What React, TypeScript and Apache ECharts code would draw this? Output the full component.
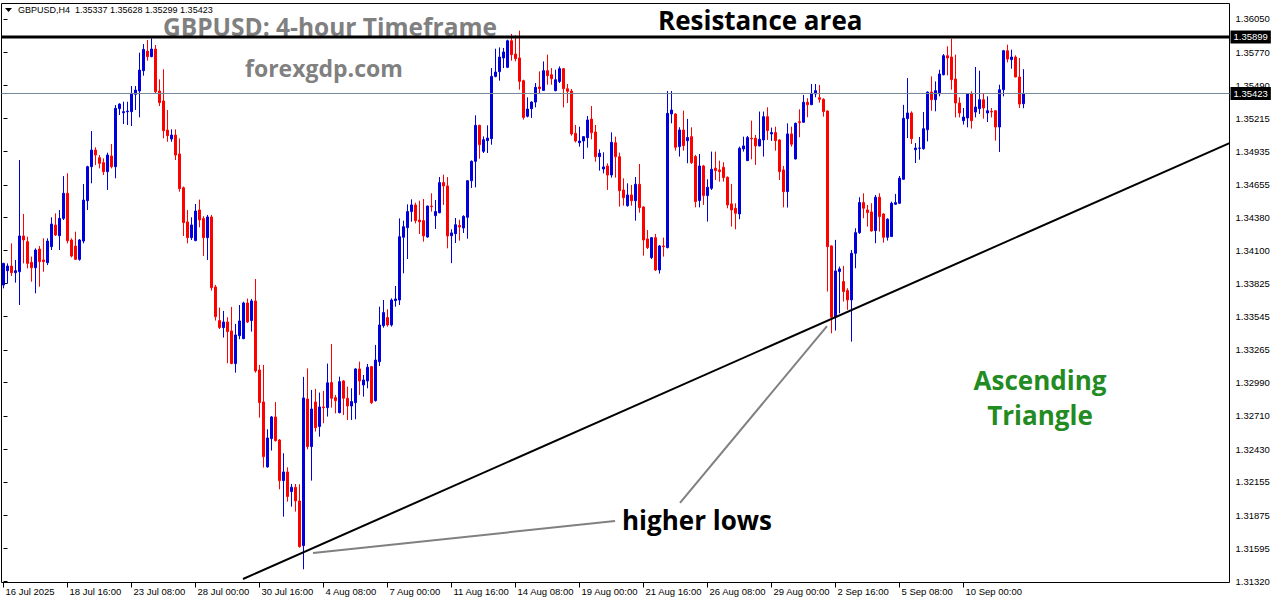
import React, { useEffect, useRef } from "react";
import * as echarts from "echarts";

// ---- data (GBPUSD H4, 16 Jul – 12 Sep 2025) ----
const opens = [
  1.33811,1.33932,1.33971,1.33915,1.33923,1.34224,1.34176,1.34002,1.33957,1.34114,
  1.34022,1.33999,1.34134,1.34316,1.34226,1.34372,1.34583,1.34190,1.34139,1.34027,
  1.34181,1.34521,1.34807,1.34947,1.34883,1.34841,1.34765,1.34897,1.34807,1.35295,
  1.35261,1.35270,1.35270,1.35416,1.35444,1.35615,1.35780,1.35733,1.35797,1.35444,
  1.35360,1.35115,1.35040,1.35073,1.34914,1.34630,1.34342,1.34210,1.34185,1.34443,
  1.34370,1.34210,1.34384,1.33795,1.33512,1.33453,1.33500,1.33425,1.33150,1.33385,
  1.33360,1.33660,1.33512,1.33677,1.33096,1.32827,1.32280,1.32519,1.32701,1.32507,
  1.32165,1.32238,1.32073,1.32109,1.31994,1.31618,1.32852,1.32451,1.32827,1.32620,
  1.32785,1.32779,1.32990,1.32863,1.32737,1.33004,1.32858,1.32793,1.32821,1.33105,
  1.32970,1.33004,1.33124,1.32838,1.33166,1.33469,1.33537,1.33475,1.33680,1.33685,
  1.34213,1.34294,1.34429,1.34485,1.34358,1.34353,1.34215,1.34476,1.34395,1.34420,
  1.34673,1.34645,1.34226,1.34243,1.34313,1.34291,1.34381,1.34689,1.34852,1.35155,
  1.34936,1.35026,1.35043,1.35567,1.35607,1.35722,1.35643,1.35867,1.35755,1.35722,
  1.35531,1.35231,1.35295,1.35351,1.35478,1.35449,1.35615,1.35581,1.35447,1.35525,
  1.35632,1.35463,1.35444,1.35088,1.35009,1.35023,1.35051,1.35208,1.35099,1.34891,
  1.34788,1.34813,1.34737,1.35009,1.34891,1.34611,1.34479,1.34569,1.34521,1.34659,
  1.34468,1.34199,1.34042,1.34210,1.33938,1.34140,1.34126,1.35251,1.35251,1.34976,
  1.35116,1.35026,1.35060,1.34892,1.34522,1.34813,1.34564,1.34625,1.34794,1.34780,
  1.34802,1.34718,1.34494,1.34457,1.34409,1.34956,1.34858,1.35046,1.35046,1.34982,
  1.35032,1.35228,1.35083,1.35094,1.35032,1.34780,1.34597,1.35083,1.34872,1.35186,
  1.35181,1.35349,1.35329,1.35419,1.35388,1.35374,1.35276,1.34140,1.33540,1.33924,
  1.33840,1.33764,1.33686,1.34078,1.34252,1.34505,1.34443,1.34426,1.34269,1.34550,
  1.34409,1.34213,1.34219,1.34491,1.34499,1.34701,1.35211,1.35259,1.34950,1.34962,
  1.34959,1.35118,1.35435,1.35371,1.35421,1.35581,1.35741,1.35730,1.35545,1.35343,
  1.35194,1.35217,1.35421,1.35267,1.35295,1.35371,1.35259,1.35273,1.35278,1.35141,
  1.35455,1.35783,1.35708,1.35730,1.35562,1.35337
];
const highs = [
  1.33999,1.33993,1.34162,1.34022,1.34863,1.34409,1.34218,1.34050,1.34120,1.34139,
  1.34204,1.34204,1.34381,1.34414,1.34442,1.34728,1.34751,1.34204,1.34260,1.34198,
  1.34661,1.34815,1.35107,1.34970,1.34905,1.34877,1.34925,1.34998,1.35326,1.35340,
  1.35354,1.35354,1.35486,1.35486,1.35766,1.35839,1.35873,1.35887,1.35831,1.35542,
  1.35626,1.35284,1.35121,1.35121,1.35045,1.34640,1.34443,1.34381,1.34493,1.34530,
  1.34390,1.34401,1.34401,1.33812,1.33621,1.33593,1.33540,1.33627,1.33484,1.33643,
  1.33671,1.33697,1.33694,1.33862,1.33139,1.33139,1.32597,1.32709,1.32827,1.32515,
  1.32395,1.32277,1.32137,1.32137,1.32134,1.33038,1.33110,1.32928,1.32937,1.32906,
  1.32920,1.33150,1.33315,1.32886,1.33040,1.33010,1.32956,1.32942,1.33110,1.33166,
  1.33054,1.33147,1.33130,1.33307,1.33629,1.33685,1.33607,1.33699,1.33803,1.34372,
  1.34353,1.34490,1.34532,1.34504,1.34521,1.34535,1.34479,1.34583,1.34527,1.34720,
  1.34740,1.34720,1.34280,1.34375,1.34361,1.34398,1.34695,1.34860,1.35239,1.35160,
  1.35062,1.35155,1.35637,1.35800,1.35811,1.35806,1.35876,1.35924,1.35912,1.35952,
  1.35539,1.35391,1.35357,1.35511,1.35609,1.35693,1.35750,1.35637,1.35623,1.35651,
  1.35637,1.35503,1.35461,1.35158,1.35144,1.35065,1.35234,1.35318,1.35158,1.34953,
  1.34928,1.34835,1.35096,1.35060,1.34925,1.34709,1.34667,1.34653,1.34720,1.34830,
  1.34475,1.34274,1.34215,1.34241,1.34148,1.34210,1.35444,1.35444,1.35255,1.35139,
  1.35279,1.35209,1.35139,1.34906,1.34914,1.34822,1.34701,1.34934,1.34934,1.34858,
  1.34844,1.34725,1.34662,1.34499,1.34976,1.35060,1.35066,1.35195,1.35074,1.35271,
  1.35271,1.35307,1.35136,1.35144,1.35038,1.34813,1.35172,1.35144,1.35178,1.35290,
  1.35411,1.35383,1.35503,1.35503,1.35495,1.35383,1.35280,1.34145,1.34191,1.33966,
  1.33972,1.33784,1.34106,1.34289,1.34550,1.34583,1.34485,1.34499,1.34569,1.34583,
  1.34415,1.34373,1.34513,1.34578,1.34729,1.35327,1.35553,1.35273,1.35006,1.35057,
  1.35267,1.35440,1.35567,1.35525,1.35623,1.35755,1.35820,1.35884,1.35750,1.35391,
  1.35301,1.35425,1.35441,1.35646,1.35615,1.35421,1.35399,1.35301,1.35282,1.35497,
  1.35790,1.35834,1.35792,1.35744,1.35722,1.35628
];
const lows = [
  1.33783,1.33825,1.33887,1.33831,1.33643,1.33993,1.33951,1.33839,1.33741,1.33797,
  1.33923,1.33979,1.34106,1.34224,1.34106,1.34358,1.34162,1.34044,1.34022,1.34016,
  1.34162,1.34442,1.34667,1.34821,1.34793,1.34737,1.34611,1.34793,1.34709,1.35242,
  1.35166,1.35158,1.35149,1.35284,1.35222,1.35573,1.35699,1.35728,1.35424,1.35317,
  1.35045,1.35017,1.35017,1.34863,1.34597,1.34224,1.34162,1.34190,1.34180,1.34297,
  1.34056,1.34022,1.33764,1.33512,1.33441,1.33369,1.33153,1.33145,1.33074,1.33355,
  1.33355,1.33492,1.33419,1.33074,1.32695,1.32275,1.32275,1.32418,1.32493,1.32092,
  1.31862,1.31988,1.31946,1.31904,1.31601,1.31419,1.32429,1.32165,1.32578,1.32535,
  1.32648,1.32704,1.32779,1.32731,1.32731,1.32717,1.32675,1.32675,1.32681,1.32886,
  1.32872,1.32942,1.32810,1.32830,1.33130,1.33452,1.33461,1.33461,1.33629,1.33643,
  1.33910,1.34030,1.34344,1.34330,1.34241,1.34176,1.34210,1.34429,1.34283,1.34415,
  1.34485,1.34120,1.33995,1.34165,1.34184,1.34249,1.34201,1.34628,1.34633,1.34874,
  1.34922,1.34922,1.34992,1.35559,1.35531,1.35637,1.35637,1.35699,1.35693,1.35455,
  1.35203,1.35222,1.35217,1.35306,1.35419,1.35447,1.35497,1.35497,1.35441,1.35511,
  1.35306,1.35343,1.35068,1.35012,1.34976,1.34872,1.34967,1.35037,1.34849,1.34774,
  1.34751,1.34611,1.34715,1.34715,1.34471,1.34479,1.34470,1.34479,1.34353,1.34420,
  1.34058,1.34114,1.34030,1.33929,1.33907,1.34050,1.34120,1.35172,1.34942,1.34892,
  1.34942,1.34836,1.34830,1.34465,1.34465,1.34485,1.34345,1.34611,1.34695,1.34681,
  1.34681,1.34457,1.34303,1.34280,1.34365,1.34934,1.34855,1.34869,1.34822,1.34978,
  1.34892,1.35032,1.35024,1.34942,1.34695,1.34465,1.34463,1.34976,1.34868,1.35055,
  1.35176,1.35223,1.35325,1.35391,1.35346,1.35228,1.33756,1.33405,1.33428,1.33573,
  1.33672,1.33602,1.33335,1.33952,1.34241,1.34373,1.34303,1.34261,1.34163,1.34261,
  1.34168,1.34185,1.34215,1.34485,1.34495,1.34697,1.35048,1.34998,1.34838,1.34866,
  1.34950,1.35020,1.35278,1.35273,1.35399,1.35576,1.35576,1.35455,1.35222,1.35222,
  1.35161,1.35138,1.35127,1.35222,1.35250,1.35211,1.35183,1.35222,1.35026,1.34931,
  1.35399,1.35685,1.35632,1.35559,1.35301,1.35299
];
const closes = [
  1.33993,1.33971,1.33915,1.33932,1.34224,1.34190,1.33993,1.33957,1.34106,1.34008,
  1.34008,1.34181,1.34324,1.34232,1.34372,1.34583,1.34184,1.34055,1.34027,1.34190,
  1.34526,1.34807,1.34947,1.34905,1.34835,1.34765,1.34905,1.34807,1.35298,1.35334,
  1.35270,1.35275,1.35424,1.35452,1.35620,1.35794,1.35733,1.35797,1.35438,1.35346,
  1.35110,1.35068,1.35073,1.34905,1.34622,1.34336,1.34210,1.34317,1.34434,1.34359,
  1.34210,1.34384,1.33789,1.33545,1.33453,1.33500,1.33419,1.33150,1.33391,1.33509,
  1.33660,1.33500,1.33677,1.33088,1.32822,1.32367,1.32524,1.32701,1.32502,1.32165,
  1.32238,1.32031,1.32109,1.31994,1.31610,1.32861,1.32451,1.32768,1.32611,1.32785,
  1.32779,1.32988,1.32858,1.32838,1.32998,1.32858,1.32793,1.32830,1.33105,1.33004,
  1.33012,1.33119,1.32821,1.33180,1.33475,1.33579,1.33475,1.33685,1.33694,1.34218,
  1.34302,1.34429,1.34485,1.34353,1.34344,1.34224,1.34476,1.34471,1.34429,1.34673,
  1.34645,1.34224,1.34250,1.34319,1.34299,1.34389,1.34689,1.34852,1.35155,1.34992,
  1.35034,1.35048,1.35567,1.35604,1.35730,1.35772,1.35867,1.35750,1.35716,1.35525,
  1.35222,1.35292,1.35351,1.35475,1.35463,1.35615,1.35573,1.35548,1.35539,1.35632,
  1.35463,1.35441,1.35082,1.35023,1.35023,1.35060,1.35200,1.35093,1.34891,1.34920,
  1.34805,1.34737,1.35012,1.34891,1.34605,1.34546,1.34569,1.34521,1.34659,1.34462,
  1.34190,1.34126,1.34210,1.33938,1.34140,1.34134,1.35256,1.35284,1.34970,1.35116,
  1.34984,1.35052,1.34841,1.34513,1.34813,1.34564,1.34634,1.34785,1.34774,1.34766,
  1.34715,1.34485,1.34443,1.34415,1.34962,1.34982,1.35052,1.35041,1.34982,1.35038,
  1.35228,1.35111,1.35094,1.35026,1.34766,1.34597,1.35083,1.34996,1.35172,1.35178,
  1.35349,1.35329,1.35425,1.35447,1.35374,1.35271,1.34134,1.33540,1.33930,1.33947,
  1.33756,1.33686,1.34078,1.34252,1.34505,1.34457,1.34421,1.34266,1.34550,1.34387,
  1.34213,1.34365,1.34499,1.34505,1.34710,1.35214,1.35259,1.35043,1.34964,1.34964,
  1.35127,1.35435,1.35371,1.35447,1.35587,1.35741,1.35722,1.35539,1.35343,1.35259,
  1.35225,1.35421,1.35194,1.35309,1.35371,1.35301,1.35278,1.35267,1.35141,1.35455,
  1.35783,1.35713,1.35730,1.35562,1.35334,1.35423
];

const xTickLabels = [
  "16 Jul 2025", "18 Jul 16:00", "23 Jul 08:00", "28 Jul 00:00", "30 Jul 16:00",
  "4 Aug 08:00", "7 Aug 00:00", "11 Aug 16:00", "14 Aug 08:00", "19 Aug 00:00",
  "21 Aug 16:00", "26 Aug 08:00", "29 Aug 00:00", "2 Sep 16:00", "5 Sep 08:00",
  "10 Sep 00:00"
];
const barsPerTick = 16;
const yTickValues = [
  1.31320, 1.31595, 1.31875, 1.32155, 1.32430, 1.32710, 1.32990, 1.33265, 1.33545,
  1.33825, 1.34100, 1.34380, 1.34655, 1.34935, 1.35215, 1.35490, 1.35770, 1.36050
];
const resistanceLevel = 1.35899;
const lastPrice = 1.35423;
const header = "GBPUSD,H4  1.35337 1.35628 1.35299 1.35423";
// trend line and pointer lines, in [bar index, price]
const trendLine = [[59.875, 1.31337], [306.5, 1.35006]];
const pointerLow = [[77.375, 1.31556], [152.875, 1.31825]];
const pointerHigh = [[169.125, 1.31977], [205.875, 1.33466]];
const slots = 307; // bar slots visible on the chart (incl. empty space on the right)
const yMin = 1.313076;
const yMax = 1.361804;

const AXIS_FONT = "Liberation Sans";
const TEXT_FONT = "Open Sans";

function levelSeries(level: number, color: string, width: number) {
  return {
    type: "line",
    xAxisIndex: 1,
    yAxisIndex: 0,
    data: [[-0.5, level], [slots - 0.5, level]],
    symbol: "none",
    silent: true,
    z: 6,
    lineStyle: { color, width, type: "solid" },
    endLabel: {
      show: true,
      distance: 1,
      formatter: () => level.toFixed(5),
      backgroundColor: "#000",
      color: "#fff",
      padding: [2, 3, 1, 3],
      fontSize: 9.5,
      fontFamily: AXIS_FONT,
    },
  };
}

export default function App() {
  const ref = useRef<HTMLDivElement>(null);
  useEffect(() => {
    document.body.style.margin = "0";
    const chart = echarts.init(ref.current!, null, { renderer: "svg" });
    const categories = Array.from({ length: slots }, (_, i) => String(i));
    const candles = opens.map((o, i) => [o, closes[i], lows[i], highs[i]]);
    const isTick = (index: number) =>
      index % barsPerTick === 0 && index / barsPerTick < xTickLabels.length;

    const option: any = {
      animation: false,
      backgroundColor: "#fff",
      grid: {
        left: 1.5,
        top: 3.5,
        width: 1228,
        height: 579,
        show: true,
        borderColor: "#000",
        borderWidth: 1,
        backgroundColor: "transparent",
      },
      xAxis: [
        {
          type: "category",
          data: categories,
          boundaryGap: true,
          axisLine: { show: false },
          axisTick: {
            show: true,
            alignWithLabel: true,
            interval: (index: number) => isTick(index),
            length: 5,
            lineStyle: { color: "#000", width: 1 },
          },
          axisLabel: {
            interval: (index: number) => isTick(index),
            formatter: (_v: string, index: number) =>
              isTick(index) ? xTickLabels[index / barsPerTick] : "",
            align: "left",
            margin: 4,
            padding: [0, 0, 0, 2],
            fontSize: 9.5,
            fontFamily: AXIS_FONT,
            color: "#000",
          },
          splitLine: { show: false },
        },
        { type: "value", min: -0.5, max: slots - 0.5, show: false },
      ],
      yAxis: {
        type: "value",
        position: "right",
        min: yMin,
        max: yMax,
        axisLine: { show: false },
        splitLine: { show: false },
        axisTick: {
          show: true,
          length: 4,
          customValues: yTickValues,
          lineStyle: { color: "#000" },
        },
        axisLabel: {
          customValues: yTickValues,
          formatter: (v: number) => v.toFixed(5),
          margin: 6,
          fontSize: 9.5,
          fontFamily: AXIS_FONT,
          color: "#000",
        },
      },
      series: [
        {
          type: "candlestick",
          xAxisIndex: 0,
          yAxisIndex: 0,
          data: candles,
          barWidth: 2,
          large: false,
          silent: true,
          itemStyle: {
            color: "#0000dc",
            color0: "#ff0000",
            borderColor: "#0000dc",
            borderColor0: "#ff0000",
            borderWidth: 1,
          },
        },
        levelSeries(lastPrice, "#778899", 1),
        levelSeries(resistanceLevel, "#000", 3),
        {
          type: "line",
          xAxisIndex: 1,
          yAxisIndex: 0,
          data: trendLine,
          symbol: "none",
          silent: true,
          lineStyle: { color: "#000", width: 2 },
          z: 5,
        },
        {
          type: "line",
          xAxisIndex: 1,
          yAxisIndex: 0,
          data: pointerLow,
          symbol: "none",
          silent: true,
          lineStyle: { color: "#808080", width: 2 },
          z: 5,
        },
        {
          type: "line",
          xAxisIndex: 1,
          yAxisIndex: 0,
          data: pointerHigh,
          symbol: "none",
          silent: true,
          lineStyle: { color: "#808080", width: 2 },
          z: 5,
        },
      ],
      graphic: [
        {
          type: "polygon",
          shape: { points: [[5, 8], [12, 8], [8.5, 12]] },
          style: { fill: "#000" },
        },
        {
          type: "text",
          x: 18,
          y: 10,
          style: {
            text: header,
            fontSize: 9,
            fontFamily: AXIS_FONT,
            fill: "#000",
            verticalAlign: "middle",
            textVerticalAlign: "middle",
          },
        },
        {
          type: "text",
          x: 163,
          y: 26,
          style: {
            text: "GBPUSD: 4-hour Timeframe",
            fontSize: 24.5,
            fontWeight: "bold",
            fontFamily: TEXT_FONT,
            fill: "#808080",
            verticalAlign: "middle",
            textVerticalAlign: "middle",
          },
        },
        {
          type: "text",
          x: 245,
          y: 68,
          style: {
            text: "forexgdp.com",
            fontSize: 23,
            fontWeight: "bold",
            fontFamily: TEXT_FONT,
            fill: "#808080",
            verticalAlign: "middle",
            textVerticalAlign: "middle",
          },
        },
        {
          type: "text",
          x: 658,
          y: 20,
          style: {
            text: "Resistance area",
            fontSize: 26,
            fontWeight: "bold",
            fontFamily: TEXT_FONT,
            fill: "#000",
            verticalAlign: "middle",
            textVerticalAlign: "middle",
          },
        },
        {
          type: "text",
          x: 1040,
          y: 380,
          style: {
            text: "Ascending",
            fontSize: 26,
            fontWeight: "bold",
            fontFamily: TEXT_FONT,
            fill: "#228b22",
            align: "center",
            textAlign: "center",
            verticalAlign: "middle",
            textVerticalAlign: "middle",
          },
        },
        {
          type: "text",
          x: 1040,
          y: 415,
          style: {
            text: "Triangle",
            fontSize: 26,
            fontWeight: "bold",
            fontFamily: TEXT_FONT,
            fill: "#228b22",
            align: "center",
            textAlign: "center",
            verticalAlign: "middle",
            textVerticalAlign: "middle",
          },
        },
        {
          type: "text",
          x: 622,
          y: 520,
          style: {
            text: "higher lows",
            fontSize: 26,
            fontWeight: "bold",
            fontFamily: TEXT_FONT,
            fill: "#000",
            verticalAlign: "middle",
            textVerticalAlign: "middle",
          },
        },
      ],
    };
    chart.setOption(option);
    return () => chart.dispose();
  }, []);
  return <div ref={ref} style={{ width: 1276, height: 604 }} />;
}
